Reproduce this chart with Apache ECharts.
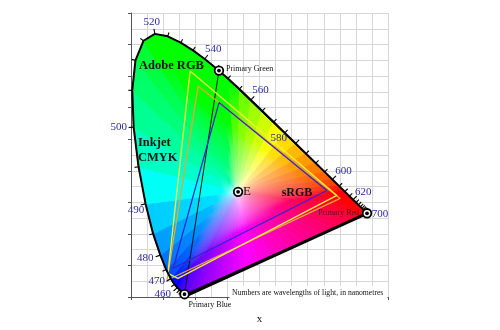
<!DOCTYPE html>
<html><head><meta charset="utf-8">
<script src="https://cdn.jsdelivr.net/npm/echarts@6/dist/echarts.min.js"></script>
<style>html,body{margin:0;padding:0;background:#fff}#c{width:500px;height:330px}</style>
</head><body><div id="c"></div>
<script>
// ---- Data: CIE 1931 spectral locus (wavelength nm, x, y) ----
const wavelengths = [380,385,390,395,400,405,410,415,420,425,430,435,440,445,450,455,460,465,470,475,480,485,490,495,500,505,510,515,520,525,530,535,540,545,550,555,560,565,570,575,580,585,590,595,600,605,610,615,620,625,630,635,640,645,650,655,660,665,670,675,680,685,690,695,700];
const locusX = [0.1741,0.1740,0.1738,0.1736,0.1733,0.1730,0.1726,0.1721,0.1714,0.1703,0.1689,0.1669,0.1644,0.1611,0.1566,0.1510,0.1440,0.1355,0.1241,0.1096,0.0913,0.0687,0.0454,0.0235,0.0082,0.0039,0.0139,0.0389,0.0743,0.1142,0.1547,0.1929,0.2296,0.2658,0.3016,0.3373,0.3731,0.4087,0.4441,0.4788,0.5125,0.5448,0.5752,0.6029,0.6270,0.6482,0.6658,0.6801,0.6915,0.7006,0.7079,0.7140,0.7190,0.7230,0.7260,0.7283,0.7300,0.7311,0.7320,0.7327,0.7334,0.7340,0.7344,0.7346,0.7347];
const locusY = [0.0050,0.0050,0.0049,0.0049,0.0048,0.0048,0.0048,0.0048,0.0051,0.0058,0.0069,0.0086,0.0109,0.0138,0.0177,0.0227,0.0297,0.0399,0.0578,0.0868,0.1327,0.2007,0.2950,0.4127,0.5384,0.6548,0.7502,0.8120,0.8338,0.8262,0.8059,0.7816,0.7543,0.7243,0.6923,0.6589,0.6245,0.5896,0.5547,0.5202,0.4866,0.4544,0.4242,0.3965,0.3725,0.3514,0.3340,0.3197,0.3083,0.2993,0.2920,0.2859,0.2809,0.2770,0.2740,0.2717,0.2700,0.2689,0.2680,0.2673,0.2666,0.2660,0.2656,0.2654,0.2653];

const labelWavelengths = [460,470,480,490,500,520,540,560,580,600,620,700];
const tickMinWavelength = 450;

const primaryNames = ['Primary Green','Primary Red','Primary Blue'];
const primaryX = [0.2738,0.7347,0.1666];
const primaryY = [0.7174,0.2653,0.0089];

const whiteName = ['E'];
const whiteX = [0.3333];
const whiteY = [0.3333];

// gamut outlines
const srgbX = [0.274,0.610,0.131];
const srgbY = [0.616,0.3375,0.0906];
const adobeX = [0.184,0.641,0.146,0.115];
const adobeY = [0.716,0.322,0.059,0.075];
const inkjetX = [0.209,0.651,0.112];
const inkjetY = [0.669,0.3125,0.053];

// ---- styling config (pixel offsets for labels) ----
const labelOffsets = {460:[-14.5,6],470:[-14,2.5],480:[-15,3],490:[-9.5,6.5],500:[-15,0],520:[-3,-12],540:[8.5,-9.6],560:[9.6,-10],580:[-17,-5],600:[11,-8],620:[10,-8],700:[13,0.5]};
const primaryLabelStyle = [
  {dx:7, dy:-2, align:'left', color:'#111'},
  {dx:-8, dy:-0.5, align:'right', color:'#4a1020'},
  {dx:4, dy:11, align:'left', color:'#111'}
];
const SERIF = '"Liberation Serif","Times New Roman",serif';

function xyColor(x,y){
  y = Math.max(y,1e-4);
  const X = x/y, Z = (1-x-y)/y;
  let r = (3.2406*X-1.5372-0.4986*Z)/1.2048;
  let g = (-0.9689*X+1.8758+0.0415*Z)/0.9484;
  let b = (0.0557*X-0.2040+1.0570*Z)/0.9087;
  r=Math.max(0,r); g=Math.max(0,g); b=Math.max(0,b);
  const m = Math.max(r,g,b)||1;
  const gm = v => { v/=m; v = v<=0.0031308?12.92*v:1.055*Math.pow(v,1/2.4)-0.055; return Math.round(255*Math.min(1,Math.max(0,v))); };
  return 'rgb('+gm(r)+','+gm(g)+','+gm(b)+')';
}

const locusData = wavelengths.map((w,i)=>[locusX[i],locusY[i],w]);
const purpleData = [[locusX[locusX.length-1],locusY[locusY.length-1]],[locusX[0],locusY[0]]];
function closed(xs,ys){ const d = xs.map((x,i)=>[x,ys[i]]); d.push([xs[0],ys[0]]); return d; }

const chart = echarts.init(document.getElementById('c'), null, {renderer:'canvas'});

const axisCommon = {
  type:'value',
  axisLabel:{show:false},
  axisLine:{show:true, lineStyle:{color:'#555', width:1}},
  axisTick:{show:true, length:3, lineStyle:{color:'#555'}},
  splitLine:{show:true, lineStyle:{color:'#d6d6d6', width:1}},
  minorTick:{show:false, splitNumber:2},
  minorSplitLine:{show:true, lineStyle:{color:'#d6d6d6', width:1}}
};

const option = {
  backgroundColor:'#fff',
  animation:false,
  grid:{left:131, top:13, width:257, height:288, containLabel:false},
  xAxis: Object.assign({}, axisCommon, {min:0, max:0.8, interval:0.1, name:'x', nameLocation:'middle', nameGap:17,
    nameTextStyle:{fontFamily:SERIF, fontSize:11, color:'#111'}}),
  yAxis: Object.assign({}, axisCommon, {min:0, max:0.9, interval:0.1}),
  series:[
    // colour fill
    {
      type:'custom', coordinateSystem:'cartesian2d', silent:true, z:1, clip:false,
      data:[[0,0]],
      renderItem:function(params, api){
        const pts = locusData.map(d=>[d[0],d[1]]);
        const a = pts[pts.length-1], b = pts[0];
        const NP = 28;
        for (let k=1;k<NP;k++) pts.push([a[0]+(b[0]-a[0])*k/NP, a[1]+(b[1]-a[1])*k/NP]);
        const ex = whiteX[0], ey = whiteY[0];
        const Ep = api.coord([ex,ey]);
        const children = [];
        const S = 12;
        for (let i=0;i<pts.length;i++){
          const q1 = pts[i], q2 = pts[(i+1)%pts.length];
          const p1 = api.coord(q1), p2 = api.coord(q2);
          const m = [(q1[0]+q2[0])/2,(q1[1]+q2[1])/2];
          const mp = api.coord(m);
          const stops = [];
          for (let s=0;s<=S;s++){ const t=s/S; const tt=Math.pow(t,0.55); stops.push({offset:t, color:xyColor(ex+(m[0]-ex)*tt, ey+(m[1]-ey)*tt)}); }
          const grad = {type:'linear', x:Ep[0], y:Ep[1], x2:mp[0], y2:mp[1], colorStops:stops, global:true};
          children.push({type:'polygon', shape:{points:[Ep,p1,p2]}, style:{fill:grad, stroke:grad, lineWidth:0.9}});
        }
        return {type:'group', children};
      }
    },
    // primaries triangle
    {type:'line', data:closed(primaryX,primaryY), symbol:'none', silent:true, z:3, lineStyle:{color:'#111', width:1}},
    // inkjet (gold)
    {type:'line', data:closed(inkjetX,inkjetY), symbol:'none', silent:true, z:3, lineStyle:{color:'#e2aa2c', width:1.3}},
    // adobe (yellow)
    {type:'line', data:closed(adobeX,adobeY), symbol:'none', silent:true, z:3, lineStyle:{color:'#f4ee3a', width:1.3}},
    // sRGB (blue)
    {type:'line', data:closed(srgbX,srgbY), symbol:'none', silent:true, z:3, lineStyle:{color:'#3a22c8', width:1.3}},
    // spectral locus outline
    {type:'line', data:locusData, symbol:'none', silent:true, z:4, lineStyle:{color:'#000', width:2}},
    // line of purples
    {type:'line', data:purpleData, symbol:'none', silent:true, z:4, lineStyle:{color:'#000', width:3}},
    // locus ticks and wavelength labels
    {
      type:'custom', coordinateSystem:'cartesian2d', silent:true, z:5, clip:false,
      data: locusData.map((d,i)=>[d[0],d[1],d[2],i]),
      renderItem:function(params, api){
        const w = api.value(2), i = api.value(3);
        const n = locusData.length;
        const children = [];
        const p = api.coord([api.value(0),api.value(1)]);
        if (w >= tickMinWavelength && w < 700){
          const pa = api.coord(locusData[Math.max(0,i-1)]), pb = api.coord(locusData[Math.min(n-1,i+1)]);
          let dx = pb[0]-pa[0], dy = pb[1]-pa[1];
          const L = Math.hypot(dx,dy)||1; dx/=L; dy/=L;
          const nx = dy, ny = -dx;
          const len = labelWavelengths.indexOf(w)>=0 ? 5 : 4;
          children.push({type:'line', shape:{x1:p[0],y1:p[1],x2:p[0]+nx*len,y2:p[1]+ny*len}, style:{stroke:'#000', lineWidth:1.1}});
        }
        if (labelWavelengths.indexOf(w)>=0){
          const o = labelOffsets[w];
          children.push({type:'text', x:p[0]+o[0], y:p[1]+o[1], style:{text:String(w), fill:'#2a2a9a', font:'11px '+SERIF, align:'center', verticalAlign:'middle'}});
        }
        return {type:'group', children};
      }
    },
    // primaries markers + labels
    {
      type:'custom', coordinateSystem:'cartesian2d', silent:true, z:6, clip:false,
      data: primaryX.map((x,i)=>[x,primaryY[i],i]),
      renderItem:function(params, api){
        const p = api.coord([api.value(0),api.value(1)]);
        const i = api.value(2);
        const st = primaryLabelStyle[i];
        return {type:'group', children:[
          {type:'circle', shape:{cx:p[0],cy:p[1],r:4.3}, style:{fill:'#fff', stroke:'#000', lineWidth:1.8}},
          {type:'circle', shape:{cx:p[0],cy:p[1],r:1.9}, style:{fill:'#000'}},
          {type:'text', x:p[0]+st.dx, y:p[1]+st.dy, style:{text:primaryNames[i], fill:st.color, font:'8px '+SERIF, align:st.align, verticalAlign:'middle'}}
        ]};
      }
    },
    // white point E
    {
      type:'custom', coordinateSystem:'cartesian2d', silent:true, z:6, clip:false,
      data: whiteX.map((x,i)=>[x,whiteY[i],i]),
      renderItem:function(params, api){
        const p = api.coord([api.value(0),api.value(1)]);
        return {type:'group', children:[
          {type:'circle', shape:{cx:p[0],cy:p[1],r:4.3}, style:{fill:'#fff', stroke:'#000', lineWidth:1.8}},
          {type:'circle', shape:{cx:p[0],cy:p[1],r:1.9}, style:{fill:'#000'}},
          {type:'text', x:p[0]+5, y:p[1], style:{text:whiteName[api.value(2)], fill:'#111', font:'13px '+SERIF, align:'left', verticalAlign:'middle'}}
        ]};
      }
    }
  ],
  graphic:[
    {type:'rect', z:20, shape:{x:229.5,y:286,width:158,height:14}, style:{fill:'#fff'}},
    {type:'text', z:21, x:232, y:293, style:{text:'Numbers are wavelengths of light, in nanometres', fill:'#111', font:'7.7px '+SERIF, align:'left', verticalAlign:'middle'}},
    {type:'text', z:21, x:139, y:66, style:{text:'Adobe RGB', fill:'#111', font:'bold 12.5px '+SERIF, align:'left', verticalAlign:'middle'}},
    {type:'text', z:21, x:138, y:150, style:{text:'Inkjet\nCMYK', fill:'#111', font:'bold 12.5px '+SERIF, align:'left', verticalAlign:'middle', lineHeight:15}},
    {type:'text', z:21, x:297, y:192.5, style:{text:'sRGB', fill:'#111', font:'bold 12px '+SERIF, align:'center', verticalAlign:'middle'}}
  ]
};
chart.setOption(option);
</script></body></html>
